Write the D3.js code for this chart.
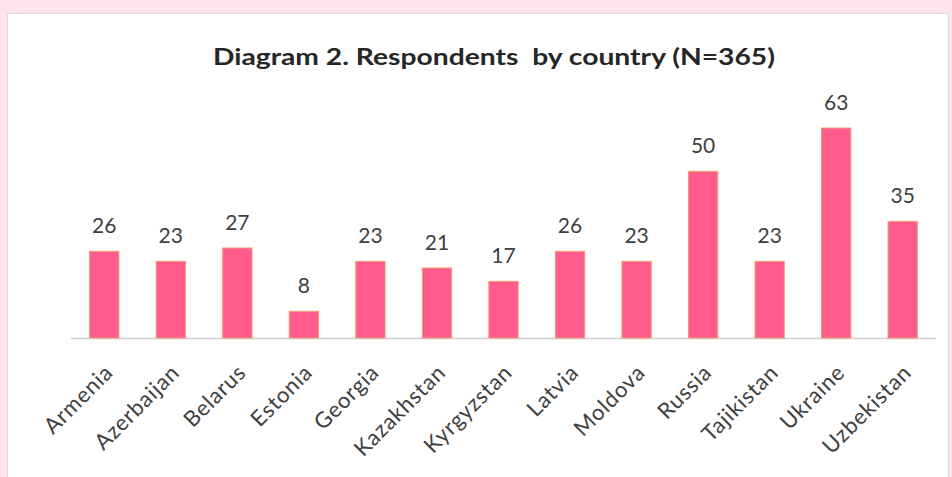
<!DOCTYPE html>
<html>
<head>
<meta charset="utf-8">
<script src="https://cdn.jsdelivr.net/npm/d3@7"></script>
<style>
  html, body { margin: 0; padding: 0; background: #fde4ea; }
  svg { display: block; }
</style>
</head>
<body>
<svg id="chart" width="952" height="477"></svg>
<script>
const countries = ["Armenia", "Azerbaijan", "Belarus", "Estonia", "Georgia", "Kazakhstan",
  "Kyrgyzstan", "Latvia", "Moldova", "Russia", "Tajikistan", "Ukraine", "Uzbekistan"];
const respondents = [26, 23, 27, 8, 23, 21, 17, 26, 23, 50, 23, 63, 35];
const chartTitle = "Diagram 2. Respondents  by country (N=365)";

const svg = d3.select("#chart");
const W = 952, H = 477;

// page background and white chart panel
svg.append("rect").attr("width", W).attr("height", H).attr("fill", "#fde4ea");
svg.append("rect")
  .attr("x", 7.5).attr("y", 13.5).attr("width", 941).attr("height", 470)
  .attr("fill", "#ffffff").attr("stroke", "#dcdcdc");

const font = "Lato, 'Open Sans', sans-serif";

svg.append("text")
  .attr("x", 494).attr("y", 65)
  .attr("text-anchor", "middle")
  .style("white-space", "pre")
  .attr("font-family", font).attr("font-weight", "bold")
  .attr("font-size", 23).attr("fill", "#262626")
  .attr("textLength", 562).attr("lengthAdjust", "spacingAndGlyphs")
  .text(chartTitle);

const x = d3.scaleBand().domain(countries).range([71, 936]).paddingInner(0.56).paddingOuter(0.28);
const y = d3.scaleLinear().domain([0, 70]).range([338, 104.7]);

// baseline
svg.append("line")
  .attr("x1", 71).attr("x2", 936).attr("y1", 338.5).attr("y2", 338.5)
  .attr("stroke", "#d0d0d0").attr("stroke-width", 1.5);

svg.append("g").selectAll("rect").data(respondents).join("rect")
  .attr("x", (d, i) => x(countries[i]))
  .attr("y", d => y(d))
  .attr("width", x.bandwidth())
  .attr("height", d => y(0) - y(d))
  .attr("fill", "#ff5c8d")
  .attr("stroke", "#f59a6e").attr("stroke-width", 1);

svg.append("g").selectAll("text").data(respondents).join("text")
  .attr("x", (d, i) => x(countries[i]) + x.bandwidth() / 2)
  .attr("y", d => y(d) - 18)
  .attr("text-anchor", "middle")
  .attr("font-family", font).attr("font-size", 21).attr("fill", "#404040")
  .text(d => d);

// rotated category labels
const axis = d3.axisBottom(x).tickSize(0).tickPadding(0);
const gAxis = svg.append("g").attr("transform", "translate(0,338)").call(axis);
gAxis.select(".domain").remove();
gAxis.selectAll("text")
  .attr("font-family", font).attr("font-size", 22).attr("fill", "#404040")
  .attr("letter-spacing", 0.8)
  .attr("text-anchor", "end")
  .attr("dy", 0)
  .attr("transform", "translate(10,36) rotate(-45)");
</script>
</body>
</html>
